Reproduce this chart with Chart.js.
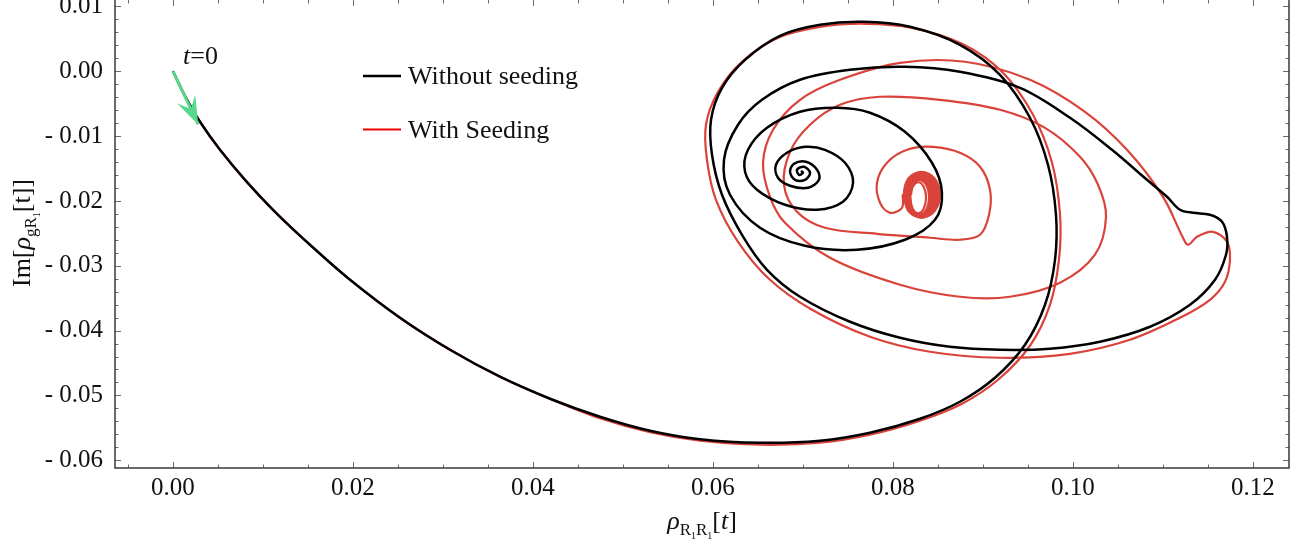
<!DOCTYPE html>
<html>
<head>
<meta charset="utf-8">
<title>Trajectory in the ρ plane</title>
<script src="https://cdn.jsdelivr.net/npm/chart.js@4.4.1/dist/chart.umd.min.js"></script>
<style>
  html, body { margin: 0; padding: 0; background: #fff; }
  canvas { display: block; }
</style>
</head>
<body>
<canvas id="trajectory-chart" width="1308" height="548"></canvas>
<script>
"use strict";

// Tick values on the frame
const xTicks = [0, 0.02, 0.04, 0.06, 0.08, 0.10, 0.12];
const yTicks = [0.01, 0, -0.01, -0.02, -0.03, -0.04, -0.05, -0.06];

// Without seeding: [rho_R1R1, Im rho_gR1]
const plainArc = [
  [0, 0], [0.00144, -0.00409], [0.0030, -0.00779], [0.00522, -0.01211], [0.0080, -0.01674],
  [0.01133, -0.02167], [0.01522, -0.02676], [0.01967, -0.03216], [0.02522, -0.03802],
  [0.03078, -0.04296], [0.03633, -0.04712], [0.04189, -0.05052], [0.04744, -0.05329],
  [0.0530, -0.05545], [0.05856, -0.05676], [0.06522, -0.0573], [0.07189, -0.05699],
  [0.07744, -0.05576], [0.0830, -0.0536], [0.08744, -0.05098], [0.09133, -0.04728],
  [0.09467, -0.04219], [0.09689, -0.03602], [0.0980, -0.02908], [0.09811, -0.02213],
  [0.09722, -0.01442], [0.09522, -0.00717], [0.09189, -0.00054], [0.08744, 0.00409],
  [0.08189, 0.00686], [0.07667, 0.00764], [0.07189, 0.00717], [0.06744, 0.00548],
  [0.06356, 0.00177], [0.0610, -0.00255], [0.05978, -0.00748], [0.05989, -0.01288],
  [0.0610, -0.01905], [0.06322, -0.02522], [0.0660, -0.03062]
];
const plainLoops = [
  [0.06967, -0.03478], [0.07522, -0.03864], [0.08078, -0.04111], [0.08633, -0.0425],
  [0.09189, -0.04296], [0.09744, -0.0428], [0.1030, -0.04172], [0.10856, -0.03941],
  [0.1130, -0.03602], [0.11578, -0.03216], [0.1170, -0.0283], [0.11711, -0.02553],
  [0.11656, -0.02321], [0.11522, -0.02213], [0.11333, -0.02183], [0.11189, -0.02136],
  [0.11044, -0.01936], [0.10822, -0.01674], [0.10433, -0.01211], [0.09967, -0.00717],
  [0.09411, -0.00255], [0.08744, -0.00008], [0.08133, 0.00069], [0.07522, 0.00023],
  [0.06967, -0.00131], [0.06544, -0.0044], [0.06278, -0.00825], [0.06122, -0.01365],
  [0.06189, -0.01905], [0.06522, -0.02414], [0.07022, -0.02692], [0.0760, -0.02753],
  [0.08133, -0.02599], [0.08467, -0.02291], [0.08544, -0.01874], [0.08433, -0.01411],
  [0.08133, -0.00933], [0.07744, -0.0064], [0.07378, -0.00563], [0.06967, -0.00625],
  [0.0660, -0.00872], [0.06389, -0.01211], [0.06356, -0.0155], [0.06489, -0.01828],
  [0.0680, -0.02059], [0.07156, -0.02136], [0.07444, -0.02013], [0.07556, -0.0172]
];
const plainSpiral = [
  [0.07467, -0.01411], [0.07244, -0.01211], [0.07022, -0.01165], [0.06822, -0.01257],
  [0.0670, -0.01442], [0.06722, -0.01643], [0.06856, -0.01766], [0.07056, -0.01797],
  [0.07178, -0.01674], [0.07156, -0.01519], [0.07033, -0.01396], [0.0690, -0.01427],
  [0.06856, -0.0155], [0.06911, -0.01674], [0.07022, -0.01674], [0.07078, -0.01566],
  [0.07011, -0.01473], [0.06933, -0.01519], [0.06956, -0.01597], [0.0700, -0.01566],
  [0.06978, -0.01535]
];

// With seeding
const seededArc = [
  [0, 0], [0.00144, -0.00409], [0.0030, -0.00779], [0.00522, -0.01211], [0.0080, -0.01674],
  [0.01133, -0.02167], [0.01522, -0.02676], [0.01967, -0.03216], [0.02522, -0.03802],
  [0.03078, -0.04296], [0.03633, -0.04712], [0.04189, -0.05052], [0.04744, -0.05352],
  [0.0530, -0.05568], [0.05856, -0.05699], [0.06522, -0.05761], [0.07189, -0.0573],
  [0.07744, -0.05607], [0.0830, -0.05391], [0.08767, -0.05129], [0.09167, -0.04759],
  [0.09522, -0.04234], [0.09744, -0.03602], [0.09844, -0.02908], [0.09856, -0.02213],
  [0.09767, -0.01411], [0.09556, -0.00671], [0.09211, -0.00008], [0.08767, 0.00424],
  [0.08211, 0.00671], [0.07689, 0.00733], [0.07189, 0.00686], [0.06722, 0.00517],
  [0.06322, 0.00147], [0.06056, -0.00316], [0.05922, -0.00825], [0.05933, -0.01365],
  [0.06033, -0.01982], [0.06278, -0.0263], [0.06633, -0.03216]
];
const seededLoops = [
  [0.0710, -0.03679], [0.07744, -0.04095], [0.08411, -0.04327], [0.09189, -0.04419],
  [0.09967, -0.04358], [0.10633, -0.04142], [0.11189, -0.03802], [0.11522, -0.03525],
  [0.11689, -0.03247], [0.11744, -0.02908], [0.11711, -0.0263], [0.11556, -0.02476],
  [0.11378, -0.02553], [0.11278, -0.02676], [0.11222, -0.02568], [0.1100, -0.01936],
  [0.1060, -0.01211], [0.10133, -0.00625], [0.09522, -0.00131], [0.0880, 0.00147],
  [0.08078, 0.00131], [0.07411, -0.00131], [0.06967, -0.0044], [0.06667, -0.00902],
  [0.06556, -0.01411], [0.06633, -0.01936], [0.0680, -0.02337], [0.0730, -0.02877],
  [0.08078, -0.03293], [0.08744, -0.03478], [0.0930, -0.03478], [0.09856, -0.03262],
  [0.10244, -0.0283], [0.10367, -0.02244], [0.10278, -0.01751], [0.10078, -0.01319],
  [0.09689, -0.00872], [0.09189, -0.00594], [0.08522, -0.0044], [0.07856, -0.00393],
  [0.07411, -0.00517], [0.07078, -0.00825], [0.06856, -0.01242], [0.06789, -0.01751],
  [0.06933, -0.02167], [0.07244, -0.02414], [0.07822, -0.02507], [0.08411, -0.02568],
  [0.08744, -0.02599], [0.08967, -0.02522], [0.09067, -0.02213], [0.09078, -0.01828],
  [0.08967, -0.01473], [0.08744, -0.01257], [0.08444, -0.01165], [0.08156, -0.01211],
  [0.07933, -0.01411], [0.07822, -0.0172], [0.07856, -0.02028], [0.07967, -0.02183],
  [0.0810, -0.02106]
];
const seededCoil = [
  [0.08111, -0.01905], [0.08171, -0.02156], [0.08317, -0.0226], [0.08462, -0.02156],
  [0.08522, -0.01905], [0.08462, -0.01654], [0.08317, -0.0155], [0.08171, -0.01654],
  [0.08122, -0.01913], [0.08178, -0.02153], [0.08314, -0.02252], [0.08449, -0.02153],
  [0.08506, -0.01913], [0.08449, -0.01673], [0.08314, -0.01573], [0.08178, -0.01673],
  [0.08133, -0.0192], [0.08186, -0.0215], [0.08311, -0.02244], [0.08437, -0.0215],
  [0.08489, -0.0192], [0.08437, -0.01692], [0.08311, -0.01596], [0.08186, -0.01692],
  [0.08144, -0.01926], [0.08192, -0.02146], [0.08306, -0.02237], [0.08419, -0.02146],
  [0.08467, -0.01926], [0.08419, -0.01706], [0.08306, -0.01615], [0.08192, -0.01706],
  [0.08156, -0.01933], [0.08198, -0.02143], [0.0830, -0.02229], [0.08402, -0.02143],
  [0.08444, -0.01933], [0.08402, -0.01723], [0.0830, -0.01635], [0.08198, -0.01723],
  [0.08167, -0.01937], [0.08204, -0.02138], [0.08294, -0.02221], [0.08384, -0.02138],
  [0.08422, -0.01937], [0.08384, -0.01737], [0.08294, -0.01654], [0.08204, -0.01737],
  [0.08178, -0.01944], [0.0821, -0.02135], [0.08289, -0.02213], [0.08368, -0.02135],
  [0.0840, -0.01944], [0.08368, -0.01752], [0.08289, -0.01674], [0.0821, -0.01752],
  [0.08194, -0.01951], [0.0822, -0.02121], [0.08281, -0.0219], [0.08341, -0.02121],
  [0.08367, -0.01951], [0.08341, -0.01782], [0.08281, -0.01712], [0.0822, -0.01782],
  [0.0820, -0.01905]
];

// Direction marker at t = 0
const startArrow = [[0, 0], [0.0028, -0.0082]];

const SERIF = '"Liberation Serif", "Times New Roman", Times, serif';
const BLACK = '#000000';
const RED = '#d9433a';
const GREEN = '#58d88c';

const toPoints = (...parts) => [].concat(...parts).map(([x, y]) => ({ x, y }));

// draws a run of text pieces with their own font and vertical offset
function drawRich(ctx, parts, x, y, align) {
  let width = 0;
  parts.forEach(p => { ctx.font = p[1]; width += ctx.measureText(p[0]).width; });
  let cx = align === 'center' ? x - width / 2 : x;
  parts.forEach(p => {
    ctx.font = p[1];
    ctx.fillText(p[0], cx, y + (p[2] || 0));
    cx += ctx.measureText(p[0]).width;
  });
}

// Inward frame ticks on all four sides plus the frame itself
const frameTicks = {
  id: 'frameTicks',
  afterDraw(chart) {
    const { ctx, chartArea: a, scales: { x, y } } = chart;
    const major = 6, minor = 3.5;
    ctx.save();
    ctx.strokeStyle = '#6a6a6a';
    ctx.lineWidth = 1;
    ctx.beginPath();
    for (let k = -2; k <= 25; k++) {
      const v = k * 0.005;
      if (v < x.min || v > x.max) continue;
      const px = Math.round(x.getPixelForValue(v)) + 0.5;
      const len = k % 4 === 0 ? major : minor;
      ctx.moveTo(px, a.bottom); ctx.lineTo(px, a.bottom - len);
      ctx.moveTo(px, a.top); ctx.lineTo(px, a.top + len);
    }
    for (let k = -31; k <= 6; k++) {
      const v = k * 0.002;
      if (v < y.min || v > y.max) continue;
      const py = Math.round(y.getPixelForValue(v)) + 0.5;
      const len = k % 5 === 0 ? major : minor;
      ctx.moveTo(a.left, py); ctx.lineTo(a.left + len, py);
      ctx.moveTo(a.right, py); ctx.lineTo(a.right - len, py);
    }
    ctx.stroke();

    ctx.strokeStyle = '#3a3a3a';
    ctx.lineWidth = 1.5;
    ctx.beginPath();
    ctx.moveTo(a.left, a.top - 2);
    ctx.lineTo(a.left, a.bottom);
    ctx.lineTo(a.right, a.bottom);
    ctx.lineTo(a.right, a.top - 2);
    ctx.stroke();
    ctx.restore();
  }
};

// Arrow head on the green start marker, plus the "t=0" note
const arrowHead = {
  id: 'arrowHead',
  afterDatasetsDraw(chart) {
    const meta = chart.getDatasetMeta(0);
    const p0 = meta.data[0], p1 = meta.data[meta.data.length - 1];
    const ang = Math.atan2(p1.y - p0.y, p1.x - p0.x);
    const { ctx } = chart;
    ctx.save();
    ctx.translate(p1.x, p1.y);
    ctx.rotate(ang);
    ctx.fillStyle = GREEN;
    ctx.beginPath();
    ctx.moveTo(0, 0);
    ctx.lineTo(-28, -10);
    ctx.lineTo(-17, 0);
    ctx.lineTo(-28, 10);
    ctx.closePath();
    ctx.fill();
    ctx.restore();

    ctx.save();
    ctx.fillStyle = '#111';
    ctx.textBaseline = 'alphabetic';
    drawRich(ctx, [['t', 'italic 26px ' + SERIF], ['=0', '26px ' + SERIF]], p0.x + 10, p0.y - 7, 'left');
    ctx.restore();
  }
};

// Axis titles and the key
const labels = {
  id: 'labels',
  afterDraw(chart) {
    const { ctx, chartArea: a } = chart;
    ctx.save();
    ctx.fillStyle = '#111';
    ctx.textBaseline = 'alphabetic';

    drawRich(ctx, [
      ['ρ', 'italic 26px ' + SERIF],
      ['R', '17px ' + SERIF, 6], ['1', '10px ' + SERIF, 10],
      ['R', '17px ' + SERIF, 6], ['1', '10px ' + SERIF, 10],
      ['[', '26px ' + SERIF], ['t', 'italic 26px ' + SERIF], [']', '26px ' + SERIF]
    ], (a.left + a.right) / 2, 529, 'center');

    ctx.save();
    ctx.translate(30, 233);
    ctx.rotate(-Math.PI / 2);
    drawRich(ctx, [
      ['Im[', '26px ' + SERIF],
      ['ρ', 'italic 26px ' + SERIF],
      ['gR', '17px ' + SERIF, 6], ['1', '10px ' + SERIF, 10],
      ['[t]]', '26px ' + SERIF]
    ], 0, 0, 'center');
    ctx.restore();

    // key
    const key = [['Without seeding', BLACK, 76, 2.5], ['With Seeding', '#f00000', 129.5, 2.2]];
    key.forEach(([text, color, ky, lw]) => {
      ctx.strokeStyle = color;
      ctx.lineWidth = lw;
      ctx.beginPath();
      ctx.moveTo(363, ky);
      ctx.lineTo(401, ky);
      ctx.stroke();
      ctx.font = '26px ' + SERIF;
      ctx.fillText(text, 408, ky + 8);
    });
    ctx.restore();
  }
};

const tickFont = { family: SERIF, size: 25 };

new Chart(document.getElementById('trajectory-chart'), {
  type: 'scatter',
  data: {
    datasets: [
      {
        label: 't = 0',
        data: toPoints(startArrow),
        showLine: true,
        borderColor: GREEN,
        borderWidth: 3,
        pointRadius: 0,
        tension: 0
      },
      {
        label: 'Without seeding',
        data: toPoints(plainArc, plainLoops, plainSpiral),
        showLine: true,
        borderColor: BLACK,
        borderWidth: 2.5,
        pointRadius: 0,
        tension: 0.35
      },
      {
        label: 'With Seeding',
        data: toPoints(seededArc, seededLoops, seededCoil),
        showLine: true,
        borderColor: RED,
        borderWidth: 2.2,
        pointRadius: 0,
        tension: 0.35
      }
    ]
  },
  options: {
    responsive: false,
    devicePixelRatio: 1,
    animation: false,
    layout: { padding: { left: 0, right: 19, top: 0, bottom: 0 } },
    plugins: {
      legend: { display: false },
      tooltip: { enabled: false }
    },
    scales: {
      x: {
        type: 'linear',
        min: -0.006444,
        max: 0.124,
        grid: { display: false, drawTicks: false },
        border: { display: false },
        afterBuildTicks: s => { s.ticks = xTicks.map(v => ({ value: v })); },
        afterFit: s => { s.height = 80; s.paddingLeft = 0; s.paddingRight = 0; },
        ticks: {
          font: tickFont,
          color: '#111',
          padding: 5,
          autoSkip: false,
          maxRotation: 0,
          callback: v => v.toFixed(2)
        }
      },
      y: {
        type: 'linear',
        min: -0.0612,
        max: 0.0110,
        grid: { display: false, drawTicks: false },
        border: { display: false },
        afterBuildTicks: s => { s.ticks = yTicks.map(v => ({ value: v })); },
        afterFit: s => { s.width = 115; s.paddingTop = 0; s.paddingBottom = 0; },
        ticks: {
          font: tickFont,
          color: '#111',
          padding: 12,
          autoSkip: false,
          callback: v => (v < -1e-9 ? '- ' + (-v).toFixed(2) : v.toFixed(2))
        }
      }
    }
  },
  plugins: [frameTicks, arrowHead, labels]
});
</script>
</body>
</html>
